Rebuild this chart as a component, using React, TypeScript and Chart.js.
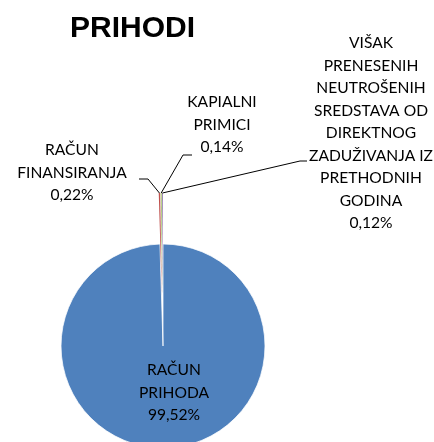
import { useEffect, useRef } from "react";
import { Chart, registerables, ArcElement, PieController } from "chart.js";

// Excel-style exploded slice: the whole wedge is moved outward along its mid angle
class ExplodedArc extends ArcElement {
  static id = "explodedArc";
  draw(ctx: CanvasRenderingContext2D) {
    const self: any = this;
    const { x, y, startAngle, endAngle, outerRadius, options } = self;
    if (endAngle - startAngle <= 0 || outerRadius <= 0) return;
    const mid = (startAngle + endAngle) / 2;
    const d = options.offset || 0;
    const cx = x + Math.cos(mid) * d;
    const cy = y + Math.sin(mid) * d;
    ctx.save();
    ctx.beginPath();
    ctx.moveTo(cx, cy);
    ctx.arc(cx, cy, outerRadius, startAngle, endAngle);
    ctx.closePath();
    ctx.fillStyle = options.backgroundColor;
    ctx.fill();
    if (options.borderWidth) {
      ctx.lineWidth = options.borderWidth;
      ctx.strokeStyle = options.borderColor;
      ctx.lineJoin = "round";
      ctx.stroke();
    }
    ctx.restore();
  }
}

class ExplodedPieController extends PieController {
  static id = "explodedPie";
  static defaults = { dataElementType: "explodedArc" };
}

Chart.register(...registerables, ExplodedArc, ExplodedPieController);

const chartTitle = "PRIHODI";
const categories = [
  "RAČUN PRIHODA",
  "RAČUN FINANSIRANJA",
  "KAPIALNI PRIMICI",
  "VIŠAK PRENESENIH NEUTROŠENIH SREDSTAVA OD DIREKTNOG ZADUŽIVANJA IZ PRETHODNIH GODINA",
];
const categoryLines = [
  ["RAČUN", "PRIHODA"],
  ["RAČUN", "FINANSIRANJA"],
  ["KAPIALNI", "PRIMICI"],
  ["VIŠAK", "PRENESENIH", "NEUTROŠENIH", "SREDSTAVA OD", "DIREKTNOG", "ZADUŽIVANJA IZ", "PRETHODNIH", "GODINA"],
];
const values = [99.52, 0.22, 0.14, 0.12];
const colors = ["#4F81BD", "#C0504D", "#9BBB59", "#8064A2"];
const explode = [0, 51, 51, 51];
const borders = [0.75, 0, 0, 0];

// label layout relative to pie centre (text block centre x, first line centre y, leader elbow, leader end)
const labelLayout = [
  { dx: 11, dy: 24, leader: null },
  { dx: -91, dy: -196, leader: [[-15, -167], [-24, -167]] },
  { dx: 59, dy: -244, leader: [[20, -191], [29, -191]] },
  { dx: 208, dy: -303, leader: [[137, -185], [144, -185]] },
];

const LABEL_FONT = "15.6px Lato";
const LINE_H = 22.5;

const fmtPct = (v: number) => v.toFixed(2).replace(".", ",") + "%";

const labelPlugin = {
  id: "excelLabels",
  afterDatasetsDraw(chart: any) {
    const ctx = chart.ctx as CanvasRenderingContext2D;
    const meta = chart.getDatasetMeta(0);
    const arcs = meta.data;
    if (!arcs.length) return;
    const cx = arcs[0].x;
    const cy = arcs[0].y;
    ctx.save();
    ctx.fillStyle = "#000";
    ctx.font = "bold 30px 'Liberation Sans'";
    ctx.textAlign = "left";
    ctx.textBaseline = "alphabetic";
    ctx.fillText(chartTitle, 70, 37);

    ctx.font = LABEL_FONT;
    ctx.textAlign = "center";
    ctx.textBaseline = "middle";
    arcs.forEach((a: any, i: number) => {
      const lay = labelLayout[i];
      const lines = [...categoryLines[i], fmtPct(values[i])];
      lines.forEach((t, k) => {
        ctx.fillText(t, cx + lay.dx, cy + lay.dy + k * LINE_H);
      });
      if (lay.leader) {
        const mid = (a.startAngle + a.endAngle) / 2;
        const r = a.outerRadius + (a.options.offset || 0);
        const tx = a.x + Math.cos(mid) * r;
        const ty = a.y + Math.sin(mid) * r;
        ctx.beginPath();
        ctx.strokeStyle = "#000";
        ctx.lineWidth = 1;
        ctx.moveTo(tx, ty);
        lay.leader.forEach((p) => ctx.lineTo(cx + p[0], cy + p[1]));
        ctx.stroke();
      }
    });
    ctx.restore();
  },
};

export default function App() {
  const ref = useRef<HTMLCanvasElement>(null);
  useEffect(() => {
    if (!ref.current) return;
    const chart = new Chart(ref.current, {
      type: "explodedPie" as any,
      data: {
        labels: categories,
        datasets: [
          {
            data: values,
            backgroundColor: colors,
            borderColor: "#ffffff",
            borderWidth: borders,
            offset: explode,
            clip: false,
          } as any,
        ],
      },
      options: {
        responsive: false,
        animation: false,
        radius: 102,
        layout: { padding: { left: 0, right: 108, top: 250, bottom: 0 } },
        plugins: {
          legend: { display: false },
          title: { display: false },
          tooltip: { enabled: false },
        },
      } as any,
      plugins: [labelPlugin],
    });
    return () => chart.destroy();
  }, []);
  return (
    <div style={{ position: "absolute", left: 0, top: 0, width: 434, height: 442, background: "#fff" }}>
      <canvas ref={ref} width={434} height={442} />
    </div>
  );
}
